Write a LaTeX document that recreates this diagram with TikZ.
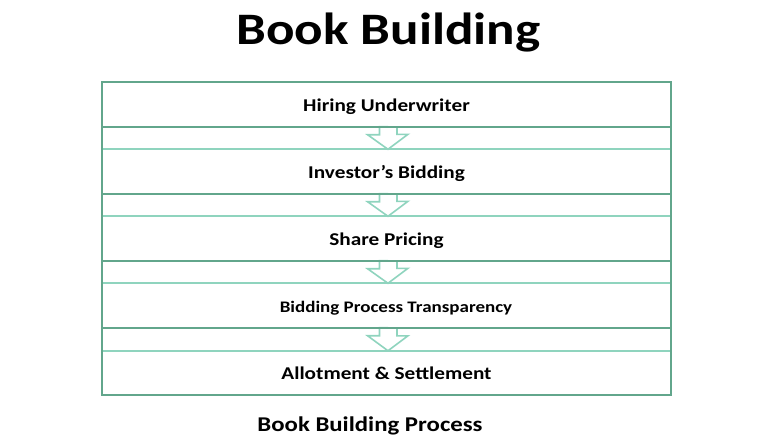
\documentclass[tikz,border=0pt]{standalone}
\usepackage{fontspec}
\setmainfont{Carlito}[FakeStretch=1.18]
\definecolor{darkgr}{HTML}{62A68C}
\definecolor{lightgr}{HTML}{8FD4BE}
\begin{document}
\begin{tikzpicture}[x=1pt,y=-1pt,
  stage/.style={minimum width=569pt,minimum height=44pt,inner sep=0pt,text height=15pt,text depth=2pt,font=\bfseries\fontsize{18}{21}\selectfont},
  frame/.style={draw=darkgr,line width=2pt},
  topline/.style={draw=lightgr,line width=2pt},
  flow/.style={draw=lightgr,line width=1.6pt,fill=white,line join=miter}]
\useasboundingbox (0,0) rectangle (774,444);
\node[font=\bfseries\fontsize{45}{52}\selectfont] (title) at (388.5,33) {Book Building};
\node[stage] (s1) at (386.5,104.5) {Hiring Underwriter};
\node[stage] (s2) at (386.5,171.5) {Investor’s Bidding};
\node[stage] (s3) at (386.5,238.5) {Share Pricing};
\node[stage,font=\bfseries\fontsize{16.1}{20}\selectfont] (s4) at (386.5,305.5) {\hspace*{19pt}Bidding Process Transparency};
\node[stage] (s5) at (386.5,373) {Allotment \& Settlement};
\node[font=\bfseries\fontsize{21}{25}\selectfont] (cap) at (370,426) {Book Building Process};
% arrows
\foreach \a/\b in {s1/s2,s2/s3,s3/s4,s4/s5}{
  \draw[flow] ([xshift=1.5pt]\a.south) -- ++(-8.5,0) -- ++(0,8) -- ++(-12,0)
     -- ([xshift=1.5pt]\b.north) -- ++(20,-15) -- ++(-11,0) -- ++(0,-8);
}
% light top lines
\foreach \b in {s2,s3,s4,s5}{
  \draw[topline] (\b.north west) -- (\b.north east);
}
% dark bottom lines
\foreach \a in {s1,s2,s3,s4}{
  \draw[frame] (\a.south west) -- (\a.south east);
}
% outer frame
\draw[frame] (s1.north west) rectangle (s5.south east);
\end{tikzpicture}
\end{document}
